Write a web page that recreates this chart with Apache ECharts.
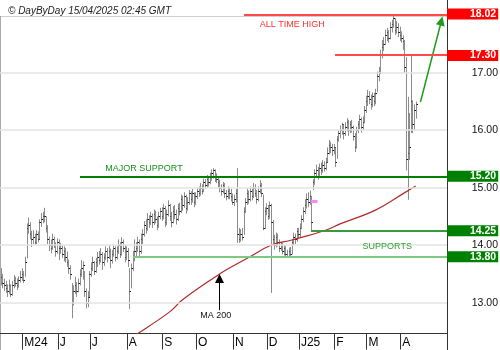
<!DOCTYPE html>
<html>
<head>
<meta charset="utf-8">
<script src="https://cdn.jsdelivr.net/npm/echarts@6/dist/echarts.min.js"></script>
<style>
html,body{margin:0;padding:0;background:#fff;}
#chart{width:500px;height:350px;}
</style>
</head>
<body>
<div id="chart"></div>
<script>
// ---- DATA ----
const closes = [13.45,13.35,13.30,13.25,13.20,13.30,13.15,13.30,13.40,13.35,
13.30,13.40,13.45,13.50,13.40,13.70,14.30,14.35,14.20,14.10,
14.15,14.05,14.20,14.10,14.40,14.45,14.50,14.50,14.30,14.10,
14.00,13.95,14.10,14.00,13.90,14.05,13.95,13.95,13.85,13.90,
13.80,13.70,13.60,13.50,13.00,13.20,13.30,13.20,13.35,13.50,
13.60,13.65,13.20,13.00,13.10,13.50,13.60,13.70,13.55,13.70,
13.80,13.75,13.85,13.70,13.80,13.90,13.80,13.90,13.75,13.85,
13.95,13.80,13.90,14.00,13.85,14.05,13.95,13.80,13.90,13.75,
13.20,13.60,13.80,13.90,13.95,14.05,13.90,14.10,14.20,14.35,
14.30,14.45,14.40,14.50,14.40,14.55,14.45,14.35,14.50,14.60,
14.50,14.65,14.40,14.55,14.70,14.50,14.40,14.60,14.55,14.45,
14.65,14.60,14.80,14.70,14.85,14.65,14.75,14.90,14.80,14.90,
14.75,14.85,14.95,14.90,15.00,14.95,15.10,15.05,15.15,15.10,
15.20,15.25,15.30,15.20,15.15,15.10,15.00,14.95,15.05,14.90,
14.85,14.95,14.90,14.85,14.75,14.80,14.90,14.20,14.10,14.20,
14.15,14.60,14.75,14.90,14.80,14.95,14.85,15.00,14.90,14.80,
14.95,15.05,14.90,14.30,14.60,14.65,14.50,14.70,14.40,14.10,
14.00,14.15,14.05,13.95,14.00,13.90,13.95,13.85,13.80,13.90,
13.85,14.05,14.15,14.10,14.25,14.20,14.30,14.45,14.60,14.70,
14.80,14.75,14.85,14.40,15.10,15.25,15.30,15.20,15.35,15.30,
15.40,15.35,15.45,15.60,15.75,15.70,15.65,15.70,15.45,15.85,
15.95,16.00,16.10,15.95,16.05,16.15,16.00,16.10,16.05,15.90,
15.70,16.00,16.10,16.20,16.05,16.15,16.35,16.50,16.60,16.55,
16.45,16.60,16.50,16.65,16.95,17.00,17.30,17.45,17.50,17.65,
17.70,17.60,17.80,17.85,17.95,17.75,17.80,17.70,17.65,17.60,
17.55,17.10,15.50,15.60,15.70,16.50,16.10,16.35,16.45];

const highs = [13.60,13.50,13.42,13.38,13.32,13.40,13.32,13.38,13.48,13.45,
13.42,13.46,13.55,13.60,13.55,13.80,14.38,14.48,14.40,14.25,
14.26,14.20,14.26,14.24,14.45,14.56,14.58,14.65,14.50,14.35,
14.15,14.10,14.20,14.15,14.05,14.12,14.10,14.04,14.00,13.98,
13.95,13.89,13.75,13.65,13.34,13.30,13.45,13.36,13.42,13.58,
13.74,13.72,13.55,13.25,13.20,13.55,13.70,13.80,13.72,13.78,
13.88,13.90,13.95,13.88,13.86,13.98,13.95,14.00,13.94,13.92,
14.00,13.98,13.98,14.10,14.05,14.14,14.10,14.00,13.98,13.95,
13.60,13.68,13.90,14.10,14.05,14.15,14.10,14.20,14.28,14.42,
14.45,14.56,14.52,14.58,14.55,14.62,14.60,14.50,14.58,14.65,
14.66,14.72,14.68,14.62,14.78,14.72,14.58,14.68,14.70,14.62,
14.72,14.74,14.88,14.86,14.92,14.88,14.84,14.96,14.94,14.98,
14.92,14.92,15.00,15.02,15.08,15.06,15.16,15.15,15.22,15.20,
15.26,15.32,15.34,15.32,15.25,15.18,15.14,15.06,15.10,15.08,
14.96,15.02,15.00,14.98,14.90,14.88,14.98,15.34,14.30,14.28,
14.30,14.66,14.82,14.98,14.95,15.02,15.00,15.08,15.06,14.96,
15.02,15.13,15.08,14.88,14.66,14.73,14.70,14.76,14.72,14.44,
14.18,14.22,14.20,14.10,14.06,14.04,14.00,13.98,13.92,13.96,
13.97,14.10,14.22,14.20,14.30,14.30,14.38,14.52,14.66,14.80,
14.90,14.92,14.95,14.86,15.15,15.32,15.40,15.36,15.42,15.44,
15.48,15.46,15.52,15.70,15.83,15.80,15.76,15.76,15.70,15.90,
16.00,16.08,16.13,16.10,16.14,16.21,16.18,16.16,16.18,16.08,
15.95,16.06,16.16,16.27,16.22,16.24,16.42,16.60,16.70,16.68,
16.62,16.66,16.65,16.72,17.02,17.10,17.40,17.57,17.62,17.75,
17.78,17.74,17.88,17.92,18.02,17.95,17.90,17.86,17.80,17.72,
17.65,17.57,17.27,16.58,16.30,17.31,16.52,16.45,16.50];

const lows = [13.30,13.25,13.20,13.17,13.10,13.15,13.10,13.12,13.25,13.28,
13.22,13.26,13.35,13.38,13.34,13.45,13.77,14.20,14.10,13.97,
14.02,14.00,14.02,14.05,14.10,14.32,14.38,14.40,14.22,14.02,
13.90,13.86,13.92,13.95,13.80,13.85,13.74,13.85,13.78,13.72,
13.70,13.62,13.50,13.40,12.73,12.95,13.15,13.10,13.18,13.30,
13.45,13.40,13.10,12.90,12.92,13.10,13.45,13.55,13.48,13.52,
13.62,13.66,13.70,13.57,13.64,13.74,13.70,13.76,13.60,13.68,
13.80,13.72,13.75,13.85,13.78,13.82,13.88,13.70,13.74,13.62,
12.89,13.25,13.55,13.72,13.78,13.88,13.80,13.85,14.02,14.15,
14.20,14.25,14.30,14.35,14.30,14.35,14.38,14.26,14.30,14.45,
14.42,14.45,14.32,14.35,14.50,14.42,14.31,14.38,14.45,14.36,
14.42,14.52,14.56,14.60,14.65,14.55,14.60,14.70,14.70,14.74,
14.66,14.70,14.80,14.84,14.86,14.88,14.92,14.98,15.00,15.02,
15.06,15.12,15.16,15.10,15.08,15.00,14.92,14.86,14.90,14.82,
14.78,14.80,14.80,14.76,14.70,14.68,14.74,14.04,14.04,14.06,
14.08,14.18,14.56,14.70,14.72,14.76,14.78,14.82,14.84,14.72,
14.76,14.90,14.84,14.26,14.28,14.52,14.44,14.46,13.17,14.02,
13.92,13.96,13.98,13.88,13.90,13.84,13.82,13.80,13.78,13.78,
13.80,13.84,14.00,14.02,14.06,14.12,14.14,14.28,14.40,14.54,
14.64,14.66,14.70,14.26,14.96,15.05,15.18,15.14,15.19,15.22,
15.26,15.28,15.30,15.44,15.58,15.60,15.55,15.58,15.36,15.50,
15.80,15.86,15.92,15.84,15.90,15.98,15.90,15.95,15.96,15.82,
15.62,15.68,15.95,16.02,15.96,16.00,16.12,16.30,16.42,16.45,
16.36,16.40,16.42,16.45,16.66,16.85,17.00,17.25,17.38,17.48,
17.55,17.52,17.58,17.70,17.78,17.66,17.68,17.62,17.55,17.52,
17.40,17.00,15.30,14.79,15.48,15.95,15.95,16.00,16.20];

// 200-day moving average, read at points: [day index, value]
const ma200 = [[80,12.38],[85,12.46],[105,12.84],[113,13.05],[136,13.50],[140,13.57],[155,13.80],
  [168,14.00],[181,14.09],[202,14.26],[211,14.37],[233,14.61],[251,14.91],[258,15.03]];

const monthLabels = ['M24','J','J','A','S','O','N','D','J25','F','M','A'];
const yTicks = [13, 14, 15, 16, 17];
const resistances = [18.02, 17.30];
const resistanceStart = [151, 208];
const supports = [15.20, 14.25, 13.80];
const supportStart = [49, 193, 82];
const holidays = ['2024-05-01','2024-12-25','2024-12-26','2025-01-01'];
const startDate = '2024-04-11';
const futureSlots = 19;

// ---- categories (trading days) ----
const categories = [];
{
  let d = new Date(startDate + 'T00:00:00Z');
  while (categories.length < closes.length) {
    const wd = d.getUTCDay();
    const s = d.toISOString().slice(0, 10);
    if (wd !== 0 && wd !== 6 && holidays.indexOf(s) < 0) categories.push(s);
    d = new Date(d.getTime() + 86400000);
  }
}
const labelAt = {};
{
  let k = 0;
  for (let i = 1; i < categories.length; i++) {
    if (categories[i].slice(0, 7) !== categories[i - 1].slice(0, 7) && k < monthLabels.length) {
      labelAt[i] = monthLabels[k++];
    }
  }
}
for (let j = 1; j <= futureSlots; j++) categories.push('f' + j);
const lastIdx = categories.length - 1;

const ohlc = closes.map((c, i) => [i, highs[i], lows[i], c]);

const FONT = '"Liberation Sans", Arial, sans-serif';
const GREEN = '#008000';

function boxLabel(txt, bg) {
  return {
    show: true, position: 'end', distance: 52, align: 'right',
    formatter: txt, color: '#fff', fontWeight: 'bold', fontSize: 10.5, fontFamily: FONT,
    backgroundColor: bg, padding: [1, 2, 0, 4], width: 45, lineHeight: 10
  };
}

const gridLines = yTicks.map(v => ({
  yAxis: v,
  label: { show: true, position: 'end', distance: 51, align: 'right', formatter: v.toFixed(2),
           color: '#111', fontSize: 10.5, fontFamily: FONT }
}));

// level lines
const levelDefs = [
  { v: resistances[0], start: resistanceStart[0], color: '#ff4a4a', width: 2, box: '#ff0000' },
  { v: resistances[1], start: resistanceStart[1], color: '#ff4a4a', width: 2, box: '#ff0000' },
  { v: supports[0], start: supportStart[0], color: GREEN, width: 2, box: GREEN },
  { v: supports[1], start: supportStart[1], color: '#3a9a3a', width: 2, box: GREEN },
  { v: supports[2], start: supportStart[2], color: '#80c880', width: 2, box: GREEN }
];
// value boxes at the right (markLine labels, invisible line)
const levelLabelSeries = levelDefs.map(d => ({
  type: 'line', data: [], z: 7, silent: true,
  markLine: {
    silent: true, symbol: ['none', 'none'], animation: false,
    lineStyle: { color: 'rgba(0,0,0,0)', width: 1 },
    label: boxLabel(d.v.toFixed(2), d.box),
    data: [[{ coord: [d.start, d.v] }, { coord: [lastIdx, d.v] }]]
  }
}));
// crisp lines drawn through the axes
const levelLineSeries = {
  type: 'custom', z: 5, silent: true,
  data: levelDefs.map(d => [d.start, d.v]),
  encode: { x: 0, y: 1 },
  renderItem: function (params, api) {
    const d = levelDefs[params.dataIndex];
    const p0 = api.coord([d.start, d.v]);
    const y = 2 * Math.floor(p0[1] / 2) + 1;
    return {
      type: 'line',
      shape: { x1: Math.round(p0[0]), y1: y, x2: 447, y2: y },
      style: { stroke: d.color, lineWidth: d.width }
    };
  }
};

const notes = [
  { coord: [161, 17.83], text: 'ALL TIME HIGH', color: '#ff3030' },
  { coord: [65, 15.34], text: 'MAJOR SUPPORT', color: '#1a8f1a' },
  { coord: [225, 13.98], text: 'SUPPORTS', color: '#2f9f2f' },
  { coord: [124, 12.77], text: 'MA 200', color: '#111' }
];

const chart = echarts.init(document.getElementById('chart'), null, { renderer: 'canvas' });
chart.setOption({
  animation: false,
  textStyle: { fontFamily: FONT },
  title: {
    text: '\u00A9 DayByDay 15/04/2025 02:45 GMT', left: 3, top: 1,
    textStyle: { fontSize: 10, fontStyle: 'italic', fontWeight: 'normal', color: '#222', fontFamily: FONT }
  },
  grid: { left: 0, right: 53, top: 14, bottom: 16.5 },
  xAxis: {
    type: 'category', data: categories, boundaryGap: true,
    axisLine: { show: true, lineStyle: { color: '#333', width: 1 } },
    axisTick: { show: true, length: 16, interval: (i) => labelAt[i] !== undefined, lineStyle: { color: '#333' } },
    axisLabel: {
      show: true, interval: (i) => labelAt[i] !== undefined,
      formatter: (v, i) => labelAt[i] || '', align: 'left', padding: [0, 0, 0, 1],
      margin: 3, fontSize: 12, color: '#000', fontFamily: FONT
    },
    splitLine: { show: false }
  },
  yAxis: {
    type: 'value', position: 'right', min: 12.464, max: 18.021, scale: true,
    axisLine: { show: false }, axisTick: { show: false }, axisLabel: { show: false }, splitLine: { show: false }
  },
  graphic: [
    { type: 'line', shape: { x1: 0, y1: 16.5, x2: 447, y2: 16.5 }, style: { stroke: '#cfcfcf', lineWidth: 1 }, z: 0 },
    { type: 'line', shape: { x1: 0.5, y1: 16, x2: 0.5, y2: 350 }, style: { stroke: '#aaaaaa', lineWidth: 1 } },
    { type: 'line', shape: { x1: 447.5, y1: 0, x2: 447.5, y2: 350 }, style: { stroke: '#333', lineWidth: 1 } }
  ],
  series: [
    {
      type: 'line', data: [], z: 1, silent: true,
      markLine: { silent: true, symbol: ['none', 'none'], animation: false,
        lineStyle: { color: '#e3e3e3', width: 1.5, type: 'solid' }, data: gridLines }
    },
    {
      type: 'custom', z: 3, silent: true,
      data: ohlc,
      encode: { x: 0, y: [1, 2, 3] },
      renderItem: function (params, api) {
        const i = api.value(0);
        const ph = api.coord([i, api.value(1)]);
        const pl = api.coord([i, api.value(2)]);
        const pc = api.coord([i, api.value(3)]);
        const x = Math.round(ph[0]) + 0.5;
        const yc = Math.round(pc[1]) + 0.5;
        return {
          type: 'group',
          children: [
            { type: 'line', shape: { x1: x, y1: ph[1], x2: x, y2: pl[1] }, style: { stroke: '#8c8c8c', lineWidth: 1 } },
            { type: 'line', shape: { x1: x, y1: yc, x2: x + 1.5, y2: yc }, style: { stroke: '#111', lineWidth: 1 } }
          ]
        };
      }
    },
    {
      type: 'line', data: ma200, smooth: 0.4, symbol: 'none', z: 4, silent: true,
      lineStyle: { color: '#b02a2a', width: 1.2 }
    },
    levelLineSeries
  ].concat(levelLabelSeries).concat([
    {
      type: 'line', data: [], z: 5, silent: true,
      markLine: {
        silent: true, symbol: ['none', 'none'], animation: false,
        lineStyle: { color: '#ff88ff', width: 3, type: 'solid' }, label: { show: false },
        data: [[{ coord: [193, 14.77] }, { coord: [197, 14.77] }]]
      },
      markPoint: {
        silent: true, symbol: 'circle', symbolSize: 0, animation: false,
        data: notes.map(n => ({
          coord: n.coord,
          label: { show: true, position: 'right', distance: 0, formatter: n.text, color: n.color, fontSize: 9, fontFamily: FONT }
        }))
      }
    },
    {
      type: 'line', data: [], z: 6, silent: true,
      markLine: {
        silent: true, animation: false, label: { show: false },
        symbol: ['none', 'triangle'], symbolSize: 9,
        lineStyle: { color: '#000', width: 1, type: 'solid' },
        data: [[{ coord: [136, 12.87] }, { coord: [136, 13.42] }]]
      }
    },
    {
      type: 'line', data: [], z: 6, silent: true,
      markLine: {
        silent: true, animation: false, label: { show: false },
        symbol: ['none', 'triangle'], symbolSize: 9,
        lineStyle: { color: '#1f9a1f', width: 1.5, type: 'solid' },
        itemStyle: { color: '#1f9a1f' },
        data: [[{ coord: [261, 16.49] }, { coord: [274, 17.90] }]]
      }
    }
  ])
});
</script>
</body>
</html>
